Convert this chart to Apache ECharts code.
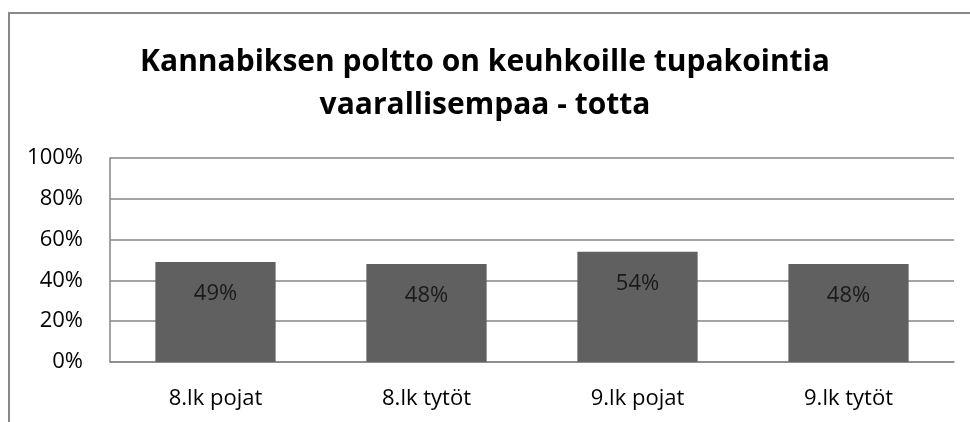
<!DOCTYPE html>
<html>
<head>
<meta charset="utf-8">
<script src="https://cdn.jsdelivr.net/npm/echarts@6/dist/echarts.min.js"></script>
<style>
  html, body { margin: 0; padding: 0; background: #fff; }
  #chart { width: 970px; height: 422px; }
</style>
</head>
<body>
<div id="chart"></div>
<script>
// chart data
const categories = ['8.lk pojat', '8.lk tytöt', '9.lk pojat', '9.lk tytöt'];
const values = [49, 48, 54, 48];
const yTicks = [0, 20, 40, 60, 80, 100];
const titleText = 'Kannabiksen poltto on keuhkoille tupakointia\nvaarallisempaa - totta';

const font = 'Open Sans';
const chart = echarts.init(document.getElementById('chart'));

chart.setOption({
    animation: false,
    title: {
        text: titleText,
        left: 'center',
        top: 36,
        textStyle: {
            fontFamily: font,
            fontWeight: 'bold',
            fontSize: 30,
            lineHeight: 43,
            color: '#000'
        }
    },
    graphic: [{
        type: 'rect',
        shape: { x: 9, y: 13, width: 1000, height: 500 },
        style: { fill: 'none', stroke: '#898989', lineWidth: 2 },
        silent: true
    }],
    grid: {
        left: 110,
        right: 16,
        top: 158,
        bottom: 60
    },
    xAxis: {
        type: 'category',
        data: categories,
        axisTick: { show: false },
        axisLine: { show: true, lineStyle: { color: '#868686', width: 1.5 } },
        axisLabel: {
            fontFamily: font,
            fontSize: 22,
            color: '#000',
            margin: 26
        }
    },
    yAxis: {
        type: 'value',
        min: yTicks[0],
        max: yTicks[yTicks.length - 1],
        interval: 20,
        axisLine: { show: true, lineStyle: { color: '#868686', width: 1.5 } },
        axisTick: { show: false },
        axisLabel: {
            formatter: '{value}%',
            fontFamily: font,
            fontSize: 22,
            color: '#000',
            margin: 27
        },
        splitLine: {
            show: true,
            lineStyle: { color: '#868686', width: 1.5 }
        }
    },
    series: [{
        type: 'bar',
        data: values,
        barWidth: '57%',
        itemStyle: { color: '#606060' },
        label: {
            show: true,
            position: 'insideTop',
            distance: 21,
            formatter: '{c}%',
            fontFamily: font,
            fontSize: 22,
            color: '#1a1a1a'
        }
    }]
});
</script>
</body>
</html>
